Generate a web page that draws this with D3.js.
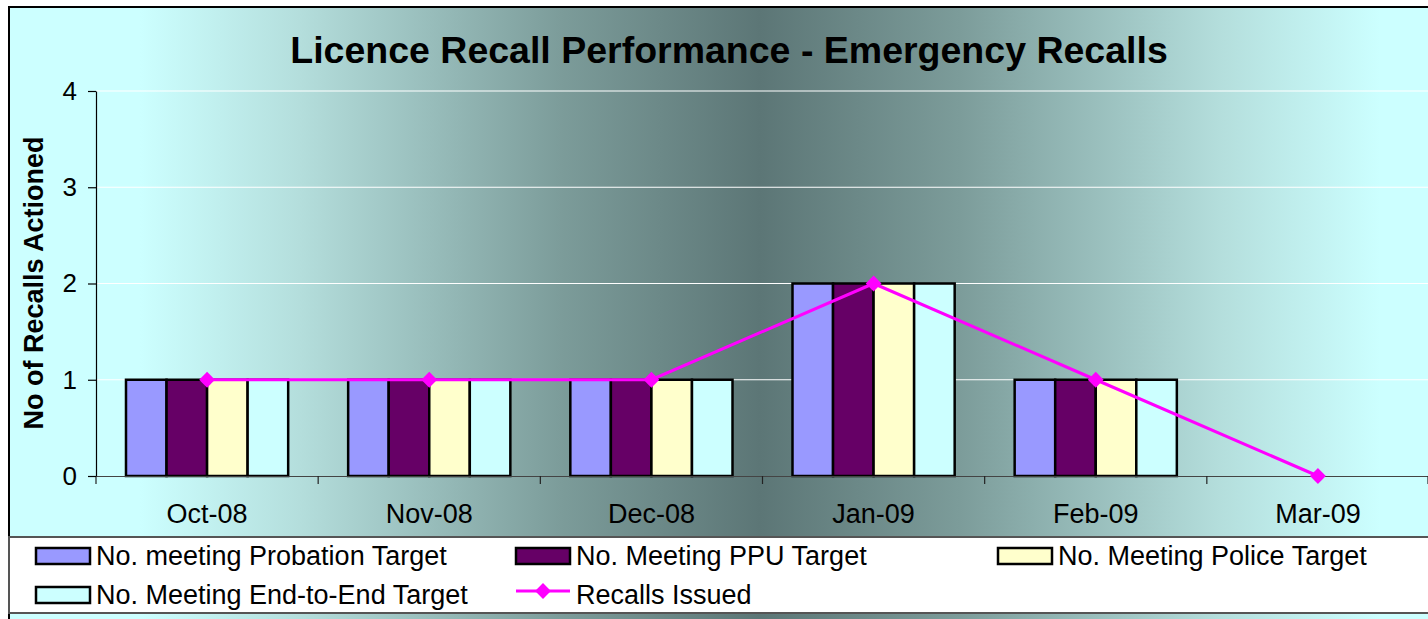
<!DOCTYPE html>
<html>
<head>
<meta charset="utf-8">
<script src="https://cdn.jsdelivr.net/npm/d3@7"></script>
<style>
  body { margin: 0; background: #fff; }
  svg { display: block; font-family: "Liberation Sans", Arial, sans-serif; }
</style>
</head>
<body>
<svg id="chart"></svg>
<script>
const WIDTH = 1428;
const HEIGHT = 619;

// chart data
const months = ['Oct-08', 'Nov-08', 'Dec-08', 'Jan-09', 'Feb-09', 'Mar-09'];
const probationTarget = [1, 1, 1, 2, 1, 0];
const ppuTarget = [1, 1, 1, 2, 1, 0];
const policeTarget = [1, 1, 1, 2, 1, 0];
const endToEndTarget = [1, 1, 1, 2, 1, 0];
const recallsIssued = [1, 1, 1, 2, 1, 0];
const yTicks = [0, 1, 2, 3, 4];

const barSeries = [
  {name: 'No. meeting Probation Target', values: probationTarget, color: '#9999FF'},
  {name: 'No. Meeting PPU Target', values: ppuTarget, color: '#660066'},
  {name: 'No. Meeting Police Target', values: policeTarget, color: '#FFFFCC'},
  {name: 'No. Meeting End-to-End Target', values: endToEndTarget, color: '#CCFFFF'}
];
const lineSeries = {name: 'Recalls Issued', values: recallsIssued, color: '#FF00FF'};

const plot = {left: 96, right: 1429, top: 91, bottom: 476};
const FONT = '"Liberation Sans", Arial, sans-serif';

const svg = d3.select('#chart')
  .attr('width', WIDTH)
  .attr('height', HEIGHT);

// background gradient, light at the edges and dark in the middle
const defs = svg.append('defs');
const grad = defs.append('linearGradient')
  .attr('id', 'bg')
  .attr('gradientUnits', 'userSpaceOnUse')
  .attr('x1', 140).attr('x2', 1380)
  .attr('y1', 0).attr('y2', 0);
[
  [0, '#CCFFFF'],
  [0.129, '#B4DEDC'],
  [0.339, '#7C9C9A'],
  [0.5, '#5C7676'],
  [0.661, '#7C9C9A'],
  [0.871, '#B4DEDC'],
  [1, '#CCFFFF']
].forEach(s => grad.append('stop').attr('offset', s[0]).attr('stop-color', s[1]));

svg.append('rect')
  .attr('x', 9).attr('y', 7)
  .attr('width', WIDTH).attr('height', HEIGHT)
  .attr('fill', 'url(#bg)')
  .attr('stroke', '#000')
  .attr('stroke-width', 2);

const x = d3.scaleBand()
  .domain(months)
  .range([plot.left, plot.right]);

const x1 = d3.scaleBand()
  .domain(barSeries.map(d => d.name))
  .range([x.bandwidth() * 0.135, x.bandwidth() * 0.865]);

const y = d3.scaleLinear()
  .domain([0, 4])
  .range([plot.bottom, plot.top]);

// gridlines
svg.append('g')
  .selectAll('line')
  .data(yTicks.filter(t => t > 0))
  .enter().append('line')
  .attr('x1', plot.left).attr('x2', plot.right)
  .attr('y1', d => y(d)).attr('y2', d => y(d))
  .attr('stroke', '#fff')
  .attr('stroke-width', 1.2);

// bars
const groups = svg.append('g')
  .selectAll('g')
  .data(months)
  .enter().append('g')
  .attr('transform', d => `translate(${x(d)},0)`);

groups.selectAll('rect')
  .data((m, i) => barSeries.map(s => ({name: s.name, color: s.color, value: s.values[i]})))
  .enter().append('rect')
  .filter(d => d.value > 0)
  .attr('x', d => x1(d.name))
  .attr('width', x1.bandwidth())
  .attr('y', d => y(d.value))
  .attr('height', d => y(0) - y(d.value))
  .attr('fill', d => d.color)
  .attr('stroke', '#000')
  .attr('stroke-width', 2.5);

// x axis
const xAxis = svg.append('g')
  .attr('transform', `translate(0,${plot.bottom})`)
  .call(d3.axisBottom(x).tickSize(0).tickPadding(28));
xAxis.select('.domain').attr('stroke', '#444').attr('stroke-width', 1.2);
xAxis.selectAll('text')
  .attr('fill', '#000')
  .style('font-size', '27px')
  .style('font-family', FONT);

// category boundary ticks
svg.append('g')
  .selectAll('line')
  .data(months.map(m => x(m)).concat([plot.right - 1]))
  .enter().append('line')
  .attr('x1', d => d).attr('x2', d => d)
  .attr('y1', plot.bottom).attr('y2', plot.bottom + 8)
  .attr('stroke', '#222')
  .attr('stroke-width', 1.2);

// y axis
const yAxis = svg.append('g')
  .attr('transform', `translate(${plot.left},0)`)
  .call(d3.axisLeft(y).tickValues(yTicks).tickFormat(d3.format('d'))
    .tickSize(8).tickPadding(11).tickSizeOuter(0));
yAxis.select('.domain').attr('stroke', '#000').attr('stroke-width', 1.2);
yAxis.selectAll('.tick line').attr('stroke', '#000').attr('stroke-width', 1.2);
yAxis.selectAll('text')
  .attr('fill', '#000')
  .style('font-size', '26px')
  .style('font-family', FONT);

// recalls issued line
const line = d3.line()
  .x((d, i) => x(months[i]) + x.bandwidth() / 2)
  .y(d => y(d));

svg.append('path')
  .attr('d', line(lineSeries.values))
  .attr('fill', 'none')
  .attr('stroke', lineSeries.color)
  .attr('stroke-width', 3);

const diamond = d3.symbol().type(d3.symbolSquare).size(125);
svg.append('g')
  .selectAll('path')
  .data(lineSeries.values)
  .enter().append('path')
  .attr('d', diamond)
  .attr('transform', (d, i) => `translate(${x(months[i]) + x.bandwidth() / 2},${y(d)}) rotate(45)`)
  .attr('fill', lineSeries.color);

// title
svg.append('text')
  .attr('x', 729).attr('y', 63)
  .attr('text-anchor', 'middle')
  .style('font-size', '37.5px')
  .style('font-weight', 'bold')
  .text('Licence Recall Performance - Emergency Recalls');

svg.append('text')
  .attr('transform', 'translate(43,283) rotate(-90)')
  .attr('text-anchor', 'middle')
  .style('font-size', '27px')
  .style('font-weight', 'bold')
  .text('No of Recalls Actioned');

// legend
svg.append('rect')
  .attr('x', 9).attr('y', 537)
  .attr('width', WIDTH).attr('height', 76)
  .attr('fill', '#fff')
  .attr('stroke', '#555')
  .attr('stroke-width', 2);

const legendItems = barSeries.map(s => ({name: s.name, color: s.color, type: 'bar'}))
  .concat([{name: lineSeries.name, color: lineSeries.color, type: 'line'}]);
const legendCols = [36, 516, 998];
const legendRows = [556, 595];

const legend = svg.append('g')
  .selectAll('g')
  .data(legendItems)
  .enter().append('g')
  .attr('transform', (d, i) => `translate(${legendCols[i % 3]},${legendRows[Math.floor(i / 3)]})`);

legend.filter(d => d.type === 'bar')
  .append('rect')
  .attr('x', 0).attr('y', -8)
  .attr('width', 54).attr('height', 16)
  .attr('fill', d => d.color)
  .attr('stroke', '#000')
  .attr('stroke-width', 2.5);

legend.filter(d => d.type === 'line')
  .append('line')
  .attr('x1', 0).attr('x2', 54)
  .attr('y1', -4).attr('y2', -4)
  .attr('stroke', d => d.color)
  .attr('stroke-width', 3);

legend.filter(d => d.type === 'line')
  .append('path')
  .attr('d', diamond)
  .attr('transform', 'translate(27,-4) rotate(45)')
  .attr('fill', d => d.color);

legend.append('text')
  .attr('x', 60).attr('y', 9)
  .style('font-size', '27px')
  .text(d => d.name);
</script>
</body>
</html>
